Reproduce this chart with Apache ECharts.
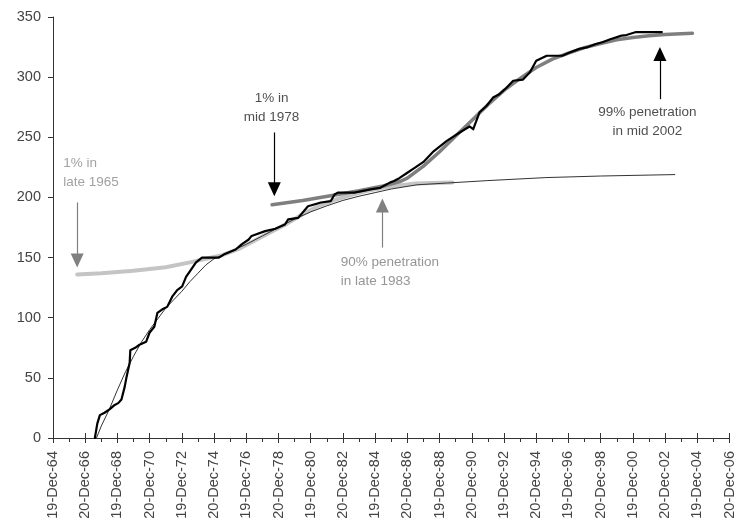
<!DOCTYPE html>
<html>
<head>
<meta charset="utf-8">
<script src="https://cdn.jsdelivr.net/npm/echarts@6/dist/echarts.min.js"></script>
<style>
html,body{margin:0;padding:0;background:#fff;}
#c{width:737px;height:532px;}
</style>
</head>
<body>
<div id="c"></div>
<script>
// x values: years, where 1964 = 19-Dec-64 (label positions every 2 years)
const tickLabels = ['19-Dec-64','20-Dec-66','19-Dec-68','20-Dec-70','19-Dec-72','20-Dec-74','19-Dec-76','20-Dec-78','19-Dec-80','20-Dec-82','19-Dec-84','20-Dec-86','19-Dec-88','20-Dec-90','19-Dec-92','20-Dec-94','19-Dec-96','20-Dec-98','19-Dec-00','20-Dec-02','19-Dec-04','20-Dec-06'];
const yTicks = [0, 350, 50];

const actual = [
 [1966.60,0],[1966.75,12],[1966.91,19],[1967.2,21],[1967.53,24],[1967.83,27.5],[1968.05,29],[1968.25,32],
 [1968.45,42.5],[1968.57,51],[1968.76,62.5],[1968.80,73],[1969.1,75],[1969.37,77.5],[1969.78,80],[1969.99,87.5],
 [1970.29,92.5],[1970.48,104],[1970.79,107],[1971.09,109],[1971.40,117.5],[1971.71,123],[1972.02,126],[1972.26,134],
 [1972.57,140],[1972.88,146],[1973.25,150],[1974.30,150],[1974.60,152.5],[1975.34,156.7],[1975.71,161],[1976.15,165],
 [1976.33,168],[1977.17,172],[1977.8,174],[1978.40,177.5],[1978.60,181.7],[1979.22,183],[1979.83,192.7],[1980.63,195.8],
 [1981.25,197],[1981.48,202.5],[1981.68,204],[1982.71,204],[1983.10,205],[1983.71,206.7],[1984.32,208],[1984.94,212.5],
 [1985.17,213.6],[1985.5,216],[1986.0,220.5],[1986.5,225],[1987.0,229.5],[1987.63,238.3],
 [1988.45,247],[1989.25,254],[1989.86,259],[1990.09,256.7],[1990.48,270.8],[1990.91,276],[1991.32,283],[1991.71,285.8],
 [1992.14,291],[1992.57,297],[1993.18,298],[1993.61,304],[1994.0,313.6],[1994.65,317.8],[1995.62,317.8],[1996.0,320],
 [1996.68,323.5],[1997.2,325],[1997.71,327.5],[1998.1,329],[1998.6,331.5],[1999.3,334.5],[1999.6,335],[2000.2,337.5],[2001.8,337.5]
];
const fit1 = [
 [1966.7,0],[1967,10],[1967.5,24],[1968,40],[1968.5,55],[1969,68],[1969.5,80],[1970,90],[1970.5,99],[1971,108],
 [1971.5,115],[1972,122],[1972.5,130],[1973,137],[1973.5,144],[1974,149],[1975,155],[1976,161],[1977,168],[1978,175],
 [1979,182],[1980,188],[1981,193],[1982,197.5],[1983,201],[1984,204],[1985,207],[1986.6,210.5],[1988.5,212],
 [1991,214],[1994.6,216.5],[1998,217.8],[2002.6,219]
];
const early = [
 [1965.5,136],[1967,137],[1969,139],[1971,142],[1972.5,146],[1973.5,149],[1974.5,152],[1975.5,157],[1976.5,164],
 [1977.5,171],[1978.5,178],[1979.5,186],[1980.5,193],[1981.5,198],[1982.5,202],[1983.5,205.5],[1984.5,208],
 [1985.5,210],[1986.5,211.5],[1988.8,212.5]
];
const second = [
 [1977.6,194],[1979.5,197.5],[1981.5,202],[1983,205.5],[1984.5,209.5],[1985.5,213],[1986,216],[1987,226],[1988,238],
 [1989,251],[1990,264],[1991,277],[1992,289],[1993,299],[1994,308],[1995,315],[1996,320],[1997,324.5],[1998,328],
 [1999,331],[2000,333],[2001,334.5],[2002,335.5],[2003,336],[2003.7,336.5]
];

// annotations: [x, yFrom, yTo(center of arrow head), colour]
const arrows = [
 [1965.5, 195.8, 147.5, '#808080'],
 [1977.74, 254, 206.7, '#000000'],
 [1984.45, 158.3, 193.3, '#808080'],
 [2001.68, 281.7, 319.2, '#000000']
];
// [x, y, text, align, colour]
const notes = [
 [1964.63, 220.8, '1% in\nlate 1965', 'left', '#8a8a8a'],
 [1977.57, 274.6, '1% in\nmid 1978', 'center', '#222222'],
 [1981.86, 138.3, '90% penetration\nin late 1983', 'left', '#7a7a7a'],
 [2000.9, 263, '99% penetration\nin mid 2002', 'center', '#222222']
];

const FONT = '"Liberation Sans", Arial, sans-serif';
const chart = echarts.init(document.getElementById('c'), null, {renderer:'canvas'});

const lineSeries = (data, color, width, z) => ({
  type:'line', data, showSymbol:false, symbol:'none', smooth:false, z,
  lineStyle:{color, width, cap:'round', join:'round'}, silent:true, animation:false
});

const option = {
  animation:false,
  backgroundColor:'#ffffff',
  grid:{left:53, right:2, top:17, bottom:94, containLabel:false},
  xAxis:[{
    type:'value', min:1964, max:2006, interval:2,
    axisLine:{show:true, lineStyle:{color:'#333', width:1}},
    axisTick:{show:true, length:5, lineStyle:{color:'#333'}},
    minorTick:{show:true, splitNumber:2, length:4, lineStyle:{color:'#333'}},
    splitLine:{show:false},
    axisLabel:{rotate:90, margin:13, fontSize:14.5, color:'#444', fontFamily:FONT,
      formatter:(v)=>tickLabels[Math.round((v-1964)/2)] || ''}
  },{
    type:'value', min:1964, max:2006, interval:2, position:'bottom', offset:0,
    axisLine:{show:false},
    axisTick:{show:true, inside:true, length:5, lineStyle:{color:'#333'}},
    axisLabel:{show:false}, splitLine:{show:false}
  }],
  yAxis:{
    type:'value', min:yTicks[0], max:yTicks[1], interval:yTicks[2],
    axisLine:{show:true, lineStyle:{color:'#333', width:1}},
    axisTick:{show:true, length:5, lineStyle:{color:'#333'}},
    splitLine:{show:false},
    axisLabel:{margin:12, fontSize:14.5, color:'#444', fontFamily:FONT}
  },
  series:[
    lineSeries(early, '#c4c4c4', 4, 1),
    lineSeries(second, '#7f7f7f', 3.5, 2),
    lineSeries(fit1, '#333333', 1, 3),
    lineSeries(actual, '#000000', 2.2, 4),
    {
      type:'line', data:[], z:5, silent:true,
      markLine:{
        silent:true, animation:false,
        label:{show:false},
        data: arrows.map(a=>[
          {coord:[a[0],a[1]], symbol:'none', lineStyle:{color:a[3], width:1.2, type:'solid'}},
          {coord:[a[0],a[2]], symbol:'triangle', symbolSize:[13,14], itemStyle:{color:a[3]}}
        ])
      }
    },
    {
      type:'scatter', z:6, silent:true, symbolSize:1,
      itemStyle:{color:'rgba(0,0,0,0)'},
      data: notes.map(n=>({value:[n[0],n[1]],
        label:{show:true, position:'inside', formatter:n[2], align:n[3], verticalAlign:'middle',
          color:n[4], fontSize:13.5, lineHeight:19, fontFamily:FONT}}))
    }
  ]
};
chart.setOption(option);
</script>
</body>
</html>
